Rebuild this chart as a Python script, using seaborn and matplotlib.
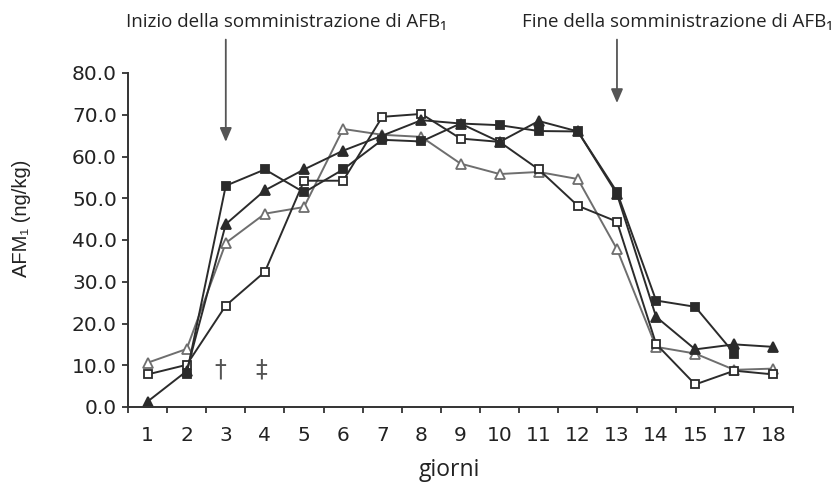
import numpy as np
import pandas as pd
import matplotlib
matplotlib.use("Agg")
import matplotlib.pyplot as plt
import seaborn as sns

# Sampling days (day 16 was not sampled)
giorni = ["1", "2", "3", "4", "5", "6", "7", "8", "9", "10", "11", "12", "13", "14", "15", "17", "18"]

# AFM1 concentration in milk (ng/kg) for the four animals
quad_pieno = [np.nan, 7.9, 53.0, 56.9, 51.4, 56.9, 64.0, 63.6, 67.9, 67.5, 66.1, 66.0, 51.5, 25.5, 24.0, 12.8, np.nan]
tri_pieno = [1.3, 8.6, 43.8, 51.9, 56.9, 61.4, 65.0, 68.7, 67.9, 63.5, 68.5, 66.0, 51.0, 21.6, 13.8, 15.0, 14.4]
quad_vuoto = [7.8, 10.1, 24.3, 32.4, 54.2, 54.2, 69.5, 70.2, 64.3, 63.5, 56.9, 48.2, 44.4, 15.1, 5.4, 8.7, 7.8]
tri_vuoto = [10.6, 13.9, 39.3, 46.3, 47.9, 66.6, 65.2, 64.7, 58.3, 55.8, 56.3, 54.6, 37.8, 14.4, 12.8, 8.9, 9.2]

y_ticks = [0, 10, 20, 30, 40, 50, 60, 70, 80]

sns.set_theme(style="ticks")
plt.rcParams["font.family"] = ["DejaVu Sans"]

pos = np.arange(len(giorni))
df = pd.DataFrame({
    "pos": pos,
    "quad_pieno": quad_pieno,
    "tri_pieno": tri_pieno,
    "quad_vuoto": quad_vuoto,
    "tri_vuoto": tri_vuoto,
})

fig = plt.figure(figsize=(8.4, 4.88), dpi=100)
ax = fig.add_axes([128 / 840, 1 - 407 / 488, (793 - 128) / 840, (407 - 73) / 488])

dark = "#2b2b2b"
grey = "#6e6e6e"

series = [
    ("tri_vuoto", "^", "white", grey, grey, 6.5),
    ("quad_vuoto", "s", "white", dark, dark, 5.2),
    ("tri_pieno", "^", dark, dark, dark, 6.5),
    ("quad_pieno", "s", dark, dark, dark, 5.5),
]
for col, mk, face, edge, lc, ms in series:
    sns.lineplot(data=df, x="pos", y=col, ax=ax, color=lc, linewidth=1.4,
                 marker=mk, markersize=ms, markerfacecolor=face,
                 markeredgecolor=edge, markeredgewidth=1.3, legend=False)

ax.set_xlim(-0.5, len(giorni) - 0.5)
ax.set_ylim(0, 80)
ax.set_yticks(y_ticks)
ax.set_yticklabels([f"{v:.1f}" for v in y_ticks])
ax.set_xticks(pos)
ax.set_xticklabels(giorni)
ax.set_xticks(np.arange(-0.5, len(giorni)), minor=True)

ax.tick_params(axis="x", which="major", length=0, pad=14, labelsize=14.5, labelcolor="#222222")
ax.tick_params(axis="x", which="minor", length=4, width=1.3, color="#333333", direction="out")
ax.tick_params(axis="y", which="major", length=4, width=1.3, color="#333333", pad=4,
               labelsize=14.5, labelcolor="#222222")

for side in ("top", "right"):
    ax.spines[side].set_visible(False)
for side in ("left", "bottom"):
    ax.spines[side].set_color("#333333")
    ax.spines[side].set_linewidth(1.4)

ax.set_xlabel("giorni", fontsize=16.5, color="#222222", family=["Open Sans", "DejaVu Sans"])
ax.xaxis.set_label_coords((449 - 128) / 665, -(458 - 407) / 334)
ax.set_ylabel("AFM\u2081 (ng/kg)", fontsize=14.5, color="#222222",
              family=["Liberation Sans", "DejaVu Sans"])
ax.yaxis.set_label_coords((31 - 128) / 665, (407 - 218) / 334)

# Start / end of AFB1 administration
arrow_kw = dict(arrowstyle="-|>,head_length=0.7,head_width=0.3", color="#555555", lw=1.3,
                shrinkA=0, shrinkB=0)
ax.annotate("", xy=(2, 63.5), xytext=(2, 88), arrowprops=arrow_kw, annotation_clip=False)
ax.annotate("", xy=(12, 72.8), xytext=(12, 88), arrowprops=arrow_kw, annotation_clip=False)

fig.text(286 / 840, 1 - 22 / 488, "Inizio della somministrazione di AFB\u2081",
         ha="center", va="center", fontsize=13.5, color="#222222", family=["Open Sans", "DejaVu Sans"])
fig.text(677 / 840, 1 - 22 / 488, "Fine della somministrazione di AFB\u2081",
         ha="center", va="center", fontsize=13.5, color="#222222", family=["Open Sans", "DejaVu Sans"])

ax.text(1.86, 8.9, "\u2020", ha="center", va="center", fontsize=17, color="#555555")
ax.text(2.91, 8.9, "\u2021", ha="center", va="center", fontsize=17, color="#555555")

fig.savefig("out.png", dpi=100, facecolor="white")
